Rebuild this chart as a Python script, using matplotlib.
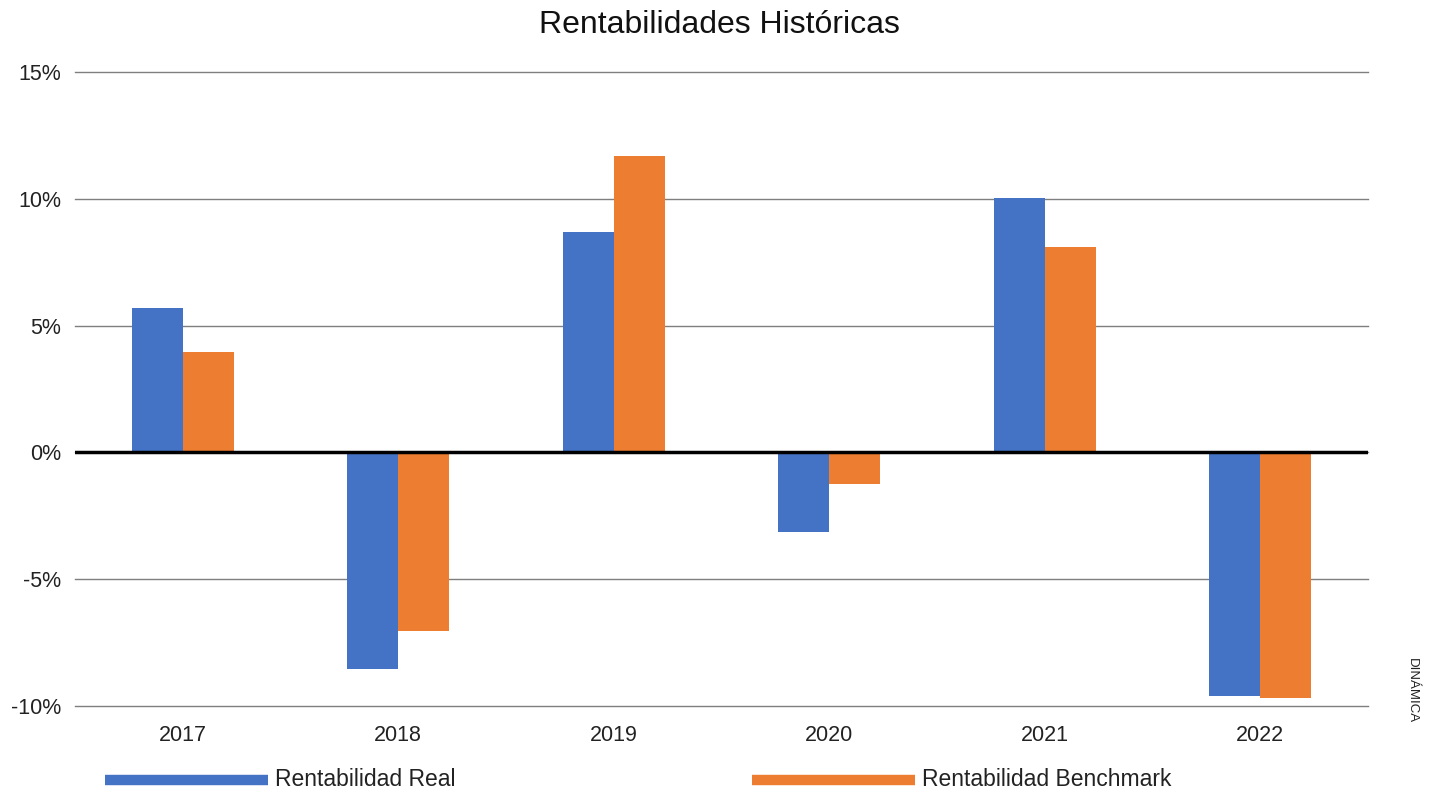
import matplotlib
matplotlib.use("Agg")
import matplotlib.pyplot as plt
from matplotlib.lines import Line2D
import numpy as np

plt.rcParams['font.family'] = ['Liberation Sans', 'DejaVu Sans']

years = ["2017", "2018", "2019", "2020", "2021", "2022"]
real = [5.7, -8.55, 8.7, -3.15, 10.05, -9.6]
benchmark = [3.95, -7.05, 11.7, -1.25, 8.1, -9.7]
series_names = ["Rentabilidad Real", "Rentabilidad Benchmark"]
yticks = [-10, -5, 0, 5, 10, 15]

blue = "#4472C4"
orange = "#ED7D31"

fig = plt.figure(figsize=(14.39, 7.94), dpi=100)
ax = fig.add_axes([75 / 1439, 1 - 706 / 794, (1368 - 75) / 1439, (706 - 72) / 794])

x = np.arange(len(years))
w = 0.237
ax.bar(x - w / 2, real, width=w, color=blue, zorder=3)
ax.bar(x + w / 2, benchmark, width=w, color=orange, zorder=3)

ax.set_xlim(-0.5, len(years) - 0.5)
ax.set_ylim(-10, 15)
ax.set_yticks(yticks)
ax.set_yticklabels([f"{t}%" for t in yticks])
ax.set_xticks(x)
ax.set_xticklabels(years)
ax.tick_params(length=0, labelsize=15.5, colors="#222222")
ax.tick_params(axis="y", pad=10)
ax.tick_params(axis="x", pad=14)
for s in ax.spines.values():
    s.set_visible(False)
ax.grid(axis="y", color="#7f7f7f", linewidth=1.0, zorder=1)
for gl in ax.get_ygridlines():
    gl.set_clip_on(False)
ax.axhline(0, color="black", linewidth=2.5, zorder=4)

fig.text(0.5, 1 - 25 / 794, "Rentabilidades Históricas", ha="center", va="center",
         fontsize=23, color="#111111")

# legend along the bottom
ly = 1 - 780 / 794
for (x0, x1, tx), col, name in zip([(105, 268, 275), (752, 915, 922)], [blue, orange], series_names):
    fig.add_artist(Line2D([x0 / 1439, x1 / 1439], [ly, ly], color=col, linewidth=7.5,
                          solid_capstyle="butt"))
    fig.text(tx / 1439, ly, name, ha="left", va="center", fontsize=16.5, color="#222222")

fig.text(1412 / 1439, 1 - 691 / 794, "DINÁMICA", rotation=-90, ha="center", va="center",
         fontsize=9.5, color="#222222")

fig.savefig("out.png", dpi=100)
